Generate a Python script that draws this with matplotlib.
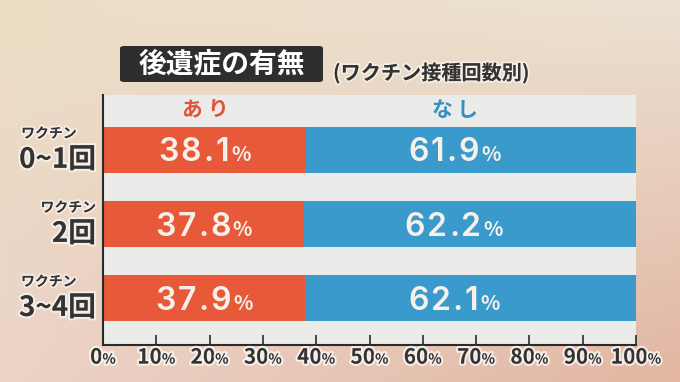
import matplotlib
matplotlib.use("Agg")
import matplotlib.pyplot as plt
import matplotlib.patheffects as pe
from matplotlib.patches import FancyBboxPatch
import numpy as np

plt.rcParams['font.family'] = ['Noto Sans CJK JP', 'DejaVu Sans']

# ---- data ----
categories_small = ["ワクチン", "ワクチン", "ワクチン"]
categories_big = ["0~1回", "2回", "3~4回"]
ari = [38.1, 37.8, 37.9]
nashi = [61.9, 62.2, 62.1]
series_names = ["あり", "なし"]
ticks = [0, 10, 20, 30, 40, 50, 60, 70, 80, 90, 100]
title = "後遺症の有無"
subtitle = "(ワクチン接種回数別)"

ORANGE = "#e8593a"
BLUE = "#3a9acc"
ORANGE_T = "#e0553a"
BLUE_T = "#3590c2"
DARK = "#333333"

W, H = 680, 382
fig = plt.figure(figsize=(W / 100, H / 100), dpi=100)

# background gradient
bg = fig.add_axes([0, 0, 1, 1], zorder=-10)
tl = np.array([236, 221, 196]) / 255
tr = np.array([236, 225, 210]) / 255
bl = np.array([236, 212, 200]) / 255
br = np.array([226, 182, 162]) / 255
yy, xx = np.mgrid[0:1:100j, 0:1:180j]
img = (tl[None, None] * ((1 - xx) * (1 - yy))[..., None] + tr[None, None] * (xx * (1 - yy))[..., None]
       + bl[None, None] * ((1 - xx) * yy)[..., None] + br[None, None] * (xx * yy)[..., None])
bg.imshow(img, aspect='auto', extent=[0, 1, 0, 1], origin='upper')
bg.axis('off')

ax = fig.add_axes([103 / W, 1 - 345 / H, 533 / W, 250 / H])
ax.set_facecolor("#ebebea")
y = np.arange(len(ari))
bh = 0.62
ax.barh(y, ari, height=bh, color=ORANGE, zorder=2)
ax.barh(y, nashi, left=ari, height=bh, color=BLUE, zorder=2)
ax.set_xlim(0, 100)
ax.set_ylim(2.635, -0.74)

for s in ['top', 'right']:
    ax.spines[s].set_visible(False)
for s in ['left', 'bottom']:
    ax.spines[s].set_color("#2a2a2a")
    ax.spines[s].set_linewidth(1.5)
ax.set_yticks([])
ax.set_xticks(ticks)
ax.set_xticklabels([])
ax.tick_params(axis='x', direction='in', length=7, width=1.2, color="#2a2a2a")

fig.canvas.draw()
renderer = fig.canvas.get_renderer()
inv_fig = fig.transFigure.inverted()


def spaced(pieces, px, py, color, ha='center', track=0.0, halo=None):
    """pieces: list of (string, fontsize, family, weight). Draw chars one by one with
    tracking (px) so that the group's digit centre sits at pixel (px, py)."""
    arts = []
    for s, fs, fam, wt in pieces:
        for ch in s:
            kw = dict(color=color, fontweight=wt, va='baseline', transform=fig.transFigure,
                      family=fam)
            if halo is not None:
                kw['path_effects'] = [pe.withStroke(linewidth=halo[0], foreground=halo[1])]
            t = fig.text(0, 0, ch, fontsize=fs, **kw)
            arts.append((t, t.get_window_extent(renderer).width, fs))
    total = sum(a[1] for a in arts) + track * (len(arts) - 1)
    big = max(a[2] for a in arts)
    cap = big * 0.73 * fig.dpi / 72
    base = py - cap / 2
    if ha == 'center':
        x = px - total / 2
    elif ha == 'right':
        x = px - total
    else:
        x = px
    x0 = x
    for t, w, fs in arts:
        t.set_position(inv_fig.transform((x, base)))
        x += w + track
    return x0, x0 + total


CJK = ['Noto Sans CJK JP', 'DejaVu Sans']
NUM = ['Inter', 'DejaVu Sans']

# bar value labels
for i in range(len(ari)):
    yp = ax.transData.transform((0, y[i]))[1]
    xa = ax.transData.transform((ari[i] / 2, 0))[0]
    xb = ax.transData.transform((ari[i] + nashi[i] * 0.45, 0))[0]
    spaced([(f"{ari[i]:.1f}", 23, NUM, 'semibold'), ("%", 14.5, CJK, 'bold')], xa, yp, "#f8f1ea", track=2)
    spaced([(f"{nashi[i]:.1f}", 23, NUM, 'semibold'), ("%", 14.5, CJK, 'bold')], xb, yp, "#f8f1ea", track=2)

# header labels
yh = ax.transData.transform((0, -0.53))[1]
spaced([(series_names[0], 15, CJK, 'bold')], ax.transData.transform((ari[0] / 2, 0))[0], yh + 2,
       ORANGE_T, track=5)
spaced([(series_names[1], 15, CJK, 'bold')], ax.transData.transform((ari[0] + nashi[0] * 0.45, 0))[0],
       yh + 2, BLUE_T, track=5)

# x tick labels
halo_w = (3, (1, 1, 1, 0.7))
ytick = 1 - 356 / H
for tv in ticks:
    px = ax.transData.transform((tv, 0))[0]
    spaced([(str(tv), 15, CJK, 'bold'), ("%", 10, CJK, 'bold')], px, H * ytick, DARK, halo=halo_w, track=0)

# y labels
for i in range(len(ari)):
    xr = ax.transAxes.transform((0, 0))[0] - 7
    yc = ax.transData.transform((0, y[i]))[1]
    tb = fig.text(*inv_fig.transform((xr, yc - 10)), categories_big[i], transform=fig.transFigure,
                  fontsize=20, fontweight='bold', color=DARK, ha='right', va='center',
                  path_effects=[pe.withStroke(linewidth=3, foreground=(1, 1, 1, 0.6))])
    bb = tb.get_window_extent(renderer)
    ts = fig.text(0, 0, categories_small[i], transform=fig.transFigure, fontsize=10,
                  fontweight='bold', color=DARK, va='center',
                  path_effects=[pe.withStroke(linewidth=2.5, foreground=(1, 1, 1, 0.6))])
    ws = ts.get_window_extent(renderer).width
    if bb.width > ws:
        ts.set_ha('left')
        ts.set_position(inv_fig.transform((bb.x0 + 2, yc + 16)))
    else:
        ts.set_ha('right')
        ts.set_position(inv_fig.transform((xr, yc + 16)))

# title box
box = FancyBboxPatch((120 / W, 1 - 82 / H), 203 / W, 36 / H, boxstyle="round,pad=0,rounding_size=0.006",
                     transform=fig.transFigure, facecolor="#2e2e2e", edgecolor='none', zorder=3)
fig.patches.append(box)
fig.text(222 / W, 1 - 64 / H, title, color="white", fontsize=20, fontweight='bold',
         ha='center', va='center', zorder=4)
fig.text(333 / W, 1 - 73 / H, subtitle, color=DARK, fontsize=14.5, fontweight='bold',
         ha='left', va='center',
         path_effects=[pe.withStroke(linewidth=2.5, foreground=(1, 1, 1, 0.6))])

fig.savefig("out.png", dpi=100)
